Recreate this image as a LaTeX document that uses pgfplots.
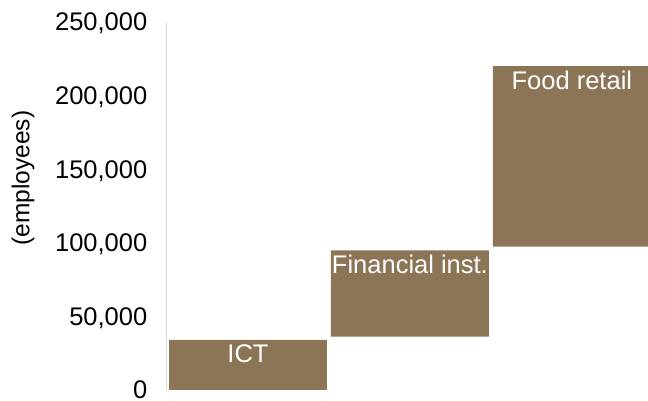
\documentclass[border=0pt]{standalone}
\usepackage{fontspec}
\setmainfont{Liberation Sans}
\usepackage{pgfplots}
\pgfplotsset{compat=1.18}
\definecolor{barcol}{RGB}{139,117,86}
\definecolor{axcol}{RGB}{217,217,217}
\begin{document}
\begin{tikzpicture}
\begin{axis}[
  at={(0,0)}, anchor=south west,
  scale only axis,
  width=481bp, height=368bp,
  xmin=-0.5, xmax=2.47,
  ymin=0, ymax=250000,
  ybar stacked,
  bar width=0.975,
  axis y line*=left,
  axis x line=none,
  y axis line style={draw=axcol, line width=1bp},
  ytick={0,50000,100000,150000,200000,250000},
  yticklabels={0,{50,000},{100,000},{150,000},{200,000},{250,000}},
  major tick length=0pt,
  scaled y ticks=false,
  yticklabel style={font=\fontsize{25.5bp}{28bp}\selectfont, inner sep=0pt, xshift=-19.5bp, text depth=0pt, text=black},
  ylabel={(employees)},
  ylabel style={font=\fontsize{24.5bp}{27bp}\selectfont, at={(axis description cs:-0.2994,0.576)}, anchor=center},
  clip=true,
]
% invisible base (start of each floating bar)
\addplot[draw=none, fill=none] coordinates {(0,0) (1,36200) (2,97400)};
% visible bar heights
\addplot[fill=barcol, draw=none] coordinates {(0,34000) (1,58600) (2,122600)};
\end{axis}
\begin{axis}[
  at={(0,0)}, anchor=south west,
  scale only axis,
  width=481bp, height=368bp,
  xmin=-0.5, xmax=2.47,
  ymin=0, ymax=250000,
  hide axis,
  clip=false,
]
\addplot[draw=none, mark=none,
  point meta=explicit symbolic,
  nodes near coords={\pgfplotspointmeta},
  every node near coord/.append style={anchor=north, inner sep=0pt, yshift=-4.5bp, text=white, font=\fontsize{25.5bp}{28bp}\selectfont}]
  coordinates {(0,34000) [ICT] (1,94800) [Financial inst.] (2,220000) [Food retail]};
\end{axis}
\pgfresetboundingbox
\path[use as bounding box] (-167bp,-11bp) rectangle (481bp,390bp);
\end{tikzpicture}
\end{document}
